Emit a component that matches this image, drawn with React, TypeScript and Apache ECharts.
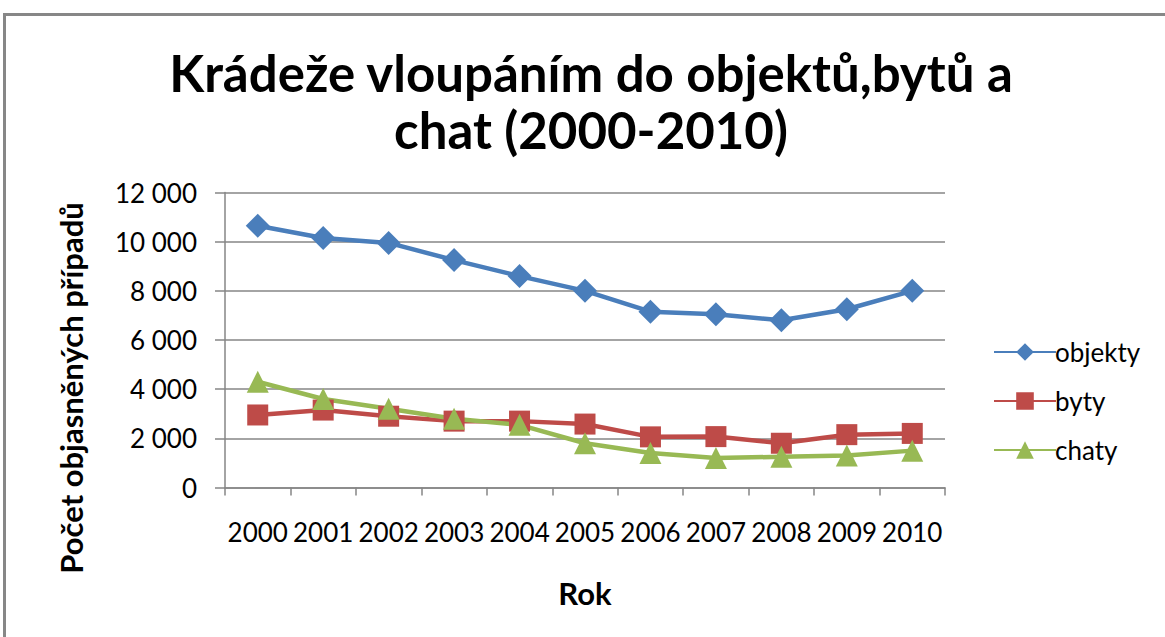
import React, { useEffect, useRef } from "react";
import * as echarts from "echarts";

const years = ["2000", "2001", "2002", "2003", "2004", "2005", "2006", "2007", "2008", "2009", "2010"];
const objekty = [10650, 10150, 9950, 9250, 8600, 8000, 7150, 7050, 6800, 7250, 8000];
const byty = [2950, 3150, 2900, 2700, 2700, 2580, 2060, 2070, 1800, 2150, 2200];
const chaty = [4300, 3600, 3200, 2800, 2550, 1800, 1400, 1200, 1250, 1300, 1500];
const titleLines = ["Krádeže vloupáním do objektů,bytů a", "chat (2000-2010)"];
const yName = "Počet objasněných případů";
const xName = "Rok";

const FONT = "Lato, 'Open Sans', sans-serif";

export default function App() {
  const ref = useRef<HTMLDivElement>(null);
  useEffect(() => {
    const chart = echarts.init(ref.current!, null, { renderer: "svg" });
    const mk = (name: string, data: number[], color: string, symbol: string, size: number) => ({
      name,
      type: "line",
      data,
      symbol,
      symbolSize: size,
      lineStyle: { color, width: 4.5 },
      itemStyle: { color },
      emphasis: { disabled: true },
    });
    chart.setOption({
      animation: false,
      backgroundColor: "#ffffff",
      graphic: [
        {
          type: "rect",
          shape: { x: 4.5, y: 14.5, width: 1300, height: 800 },
          style: { fill: "none", stroke: "#878787", lineWidth: 3 },
        },
        {
          type: "text",
          x: 591,
          y: 72,
          style: { text: titleLines[0], font: `bold 51px ${FONT}`, fill: "#000", align: "center", verticalAlign: "middle" },
        },
        {
          type: "text",
          x: 591,
          y: 129,
          style: { text: titleLines[1], font: `bold 51px ${FONT}`, fill: "#000", align: "center", verticalAlign: "middle" },
        },
        {
          type: "text",
          x: 71,
          y: 388,
          rotation: Math.PI / 2,
          style: { text: yName, font: `bold 31px ${FONT}`, fill: "#000", align: "center", verticalAlign: "middle" },
        },
      ],
      grid: { left: 225, right: 220, top: 192.5, bottom: 149.5, containLabel: false },
      legend: {
        orient: "vertical",
        left: 988,
        top: 334,
        itemWidth: 62,
        itemHeight: 22,
        itemGap: 23,
        textStyle: { fontFamily: FONT, fontSize: 26, color: "#000", padding: [0, 0, 0, -6] },
        data: ["objekty", "byty", "chaty"],
      },
      xAxis: {
        type: "category",
        data: years,
        boundaryGap: true,
        name: xName,
        nameLocation: "middle",
        nameGap: 90,
        nameTextStyle: { fontFamily: FONT, fontSize: 31, fontWeight: "bold", color: "#000" },
        axisLine: { show: true, lineStyle: { color: "#868686", width: 1.5 } },
        axisTick: { show: true, alignWithLabel: false, length: 8, lineStyle: { color: "#868686", width: 1.5 } },
        axisLabel: { fontFamily: FONT, fontSize: 26, color: "#000", margin: 31, interval: 0 },
        splitLine: { show: false },
      },
      yAxis: {
        type: "value",
        min: 0,
        max: 12000,
        interval: 2000,
        axisLine: { show: true, lineStyle: { color: "#868686", width: 1.5 } },
        axisTick: { show: true, length: 10, lineStyle: { color: "#868686", width: 1.5 } },
        axisLabel: {
          fontFamily: FONT,
          fontSize: 26,
          color: "#000",
          margin: 28,
          formatter: (v: number) => String(v).replace(/\B(?=(\d{3})+(?!\d))/g, " "),
        },
        splitLine: { show: true, lineStyle: { color: "#868686", width: 1.5 } },
      },
      series: [
        mk("objekty", objekty, "#4A7EBB", "diamond", 24),
        mk("byty", byty, "#BE4B48", "rect", 21),
        mk("chaty", chaty, "#98B954", "triangle", 22),
      ],
    });
    return () => chart.dispose();
  }, []);
  return <div ref={ref} style={{ position: "fixed", left: 0, top: 0, width: 1165, height: 637, background: "#fff" }} />;
}
